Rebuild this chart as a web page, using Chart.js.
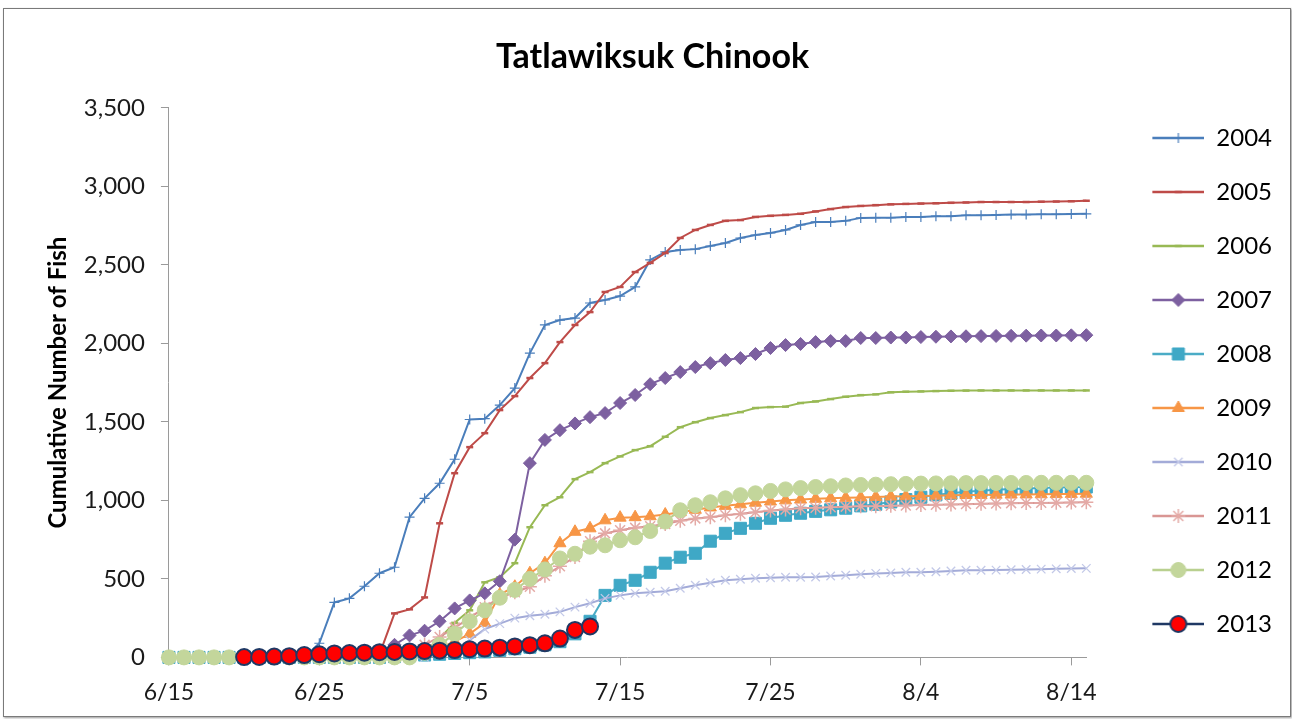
<!DOCTYPE html>
<html>
<head>
<meta charset="utf-8">
<script src="https://cdn.jsdelivr.net/npm/chart.js@4.4.1/dist/chart.umd.min.js"></script>
<style>
  html, body { margin: 0; padding: 0; background: #fff; }
  #wrap { position: relative; width: 1292px; height: 719px; }
  #wrap canvas { position: absolute; left: 0; top: 0; }
  #frame { position: absolute; left: 3px; top: 8px; width: 1286px; height: 707px;
           border: 1px solid #7a7a7a; box-shadow: 1px 1px 2px #9a9a9a; pointer-events: none; }
</style>
</head>
<body>
<div id="wrap">
  <canvas id="fishChart" width="1292" height="719"></canvas>
  <div id="frame"></div>
</div>
<script>
// days on the x axis
const dates = ['6/15','6/16','6/17','6/18','6/19','6/20','6/21','6/22','6/23','6/24',
  '6/25','6/26','6/27','6/28','6/29','6/30','7/1','7/2','7/3','7/4',
  '7/5','7/6','7/7','7/8','7/9','7/10','7/11','7/12','7/13','7/14',
  '7/15','7/16','7/17','7/18','7/19','7/20','7/21','7/22','7/23','7/24',
  '7/25','7/26','7/27','7/28','7/29','7/30','7/31','8/1','8/2','8/3',
  '8/4','8/5','8/6','8/7','8/8','8/9','8/10','8/11','8/12','8/13',
  '8/14','8/15'];

const years = ['2004','2005','2006','2007','2008','2009','2010','2011','2012','2013'];

// cumulative counts, one value per day
const y2004 = [0,0,0,0,0,0,0,0,0,0,
  90,350,376,453,536,574,893,1013,1109,1262,
  1515,1520,1607,1715,1938,2117,2148,2161,2257,2276,
  2301,2359,2531,2582,2595,2600,2620,2639,2671,2690,
  2703,2722,2754,2773,2773,2780,2799,2800,2800,2805,
  2805,2810,2810,2815,2815,2818,2820,2820,2822,2822,
  2824,2825];
const y2005 = [0,0,0,0,0,0,0,0,0,0,
  0,0,0,0,20,280,306,382,854,1173,
  1339,1428,1575,1664,1779,1874,2008,2117,2199,2327,
  2359,2454,2512,2575,2671,2722,2754,2780,2785,2805,
  2812,2818,2825,2840,2855,2868,2875,2880,2885,2888,
  2890,2892,2895,2897,2900,2900,2900,2900,2902,2903,
  2905,2908];
const y2006 = [0,0,0,0,0,0,0,0,0,0,
  0,0,0,0,0,0,0,40,120,220,
  300,478,510,600,829,969,1020,1135,1180,1237,
  1280,1320,1345,1405,1466,1498,1524,1543,1562,1588,
  1594,1597,1620,1630,1645,1660,1670,1675,1688,1692,
  1694,1696,1698,1699,1700,1700,1700,1700,1700,1700,
  1700,1700];
const y2007 = [0,0,0,0,0,0,0,0,0,0,
  0,0,0,0,20,80,140,170,230,312,
  363,408,485,750,1237,1385,1447,1490,1530,1556,
  1620,1671,1740,1779,1817,1849,1874,1894,1906,1932,
  1970,1989,1996,2008,2015,2015,2034,2034,2037,2037,
  2040,2042,2044,2045,2046,2047,2048,2049,2050,2050,
  2051,2052];
const y2008 = [0,0,0,0,0,0,0,0,0,0,
  0,0,0,0,0,5,10,15,20,25,
  30,35,45,55,65,80,100,150,230,395,
  459,491,542,600,638,663,740,790,822,854,
  886,905,918,930,940,950,965,975,990,1005,
  1020,1035,1045,1055,1062,1068,1072,1076,1079,1082,
  1084,1085];
const y2009 = [0,0,0,0,0,0,0,0,0,0,
  0,0,0,0,0,0,10,30,60,100,
  150,220,400,450,536,600,727,800,822,873,
  890,893,899,910,925,940,955,965,975,985,
  993,1000,1005,1010,1013,1016,1019,1022,1024,1026,
  1028,1030,1032,1034,1035,1036,1037,1038,1039,1040,
  1041,1042];
const y2010 = [0,0,0,0,0,0,0,0,0,0,
  0,0,0,0,0,0,0,0,20,50,
  110,180,215,250,265,275,290,320,345,376,
  395,408,415,421,440,459,475,491,498,504,
  507,510,510,512,518,523,530,535,538,542,
  542,545,550,555,555,556,558,560,562,564,
  566,567];
const y2011 = [0,0,0,0,0,0,0,0,0,0,
  0,0,0,0,0,10,40,80,130,190,
  250,320,380,415,450,520,580,640,740,790,
  810,825,835,850,870,885,893,905,915,924,
  935,942,950,953,956,960,963,963,965,967,
  970,972,974,976,978,980,982,983,984,985,
  987,988];
const y2012 = [0,0,0,0,0,0,0,0,0,0,
  0,0,0,0,0,0,0,30,80,150,
  230,300,380,430,500,560,630,660,705,714,
  746,765,805,865,937,969,988,1013,1033,1045,
  1060,1070,1078,1085,1090,1095,1098,1100,1103,1105,
  1107,1108,1109,1110,1110,1111,1111,1111,1112,1112,
  1112,1112];
const y2013 = [null,null,null,null,null,2,3,5,8,15,
  20,25,28,30,33,35,38,40,43,47,
  52,56,62,70,78,90,120,175,197];

const series = [y2004, y2005, y2006, y2007, y2008, y2009, y2010, y2011, y2012, y2013];

// line / marker looks, same order as years
const looks = [
  {line: '#4A7EBB', fill: '#4A7EBB', edge: '#4A7EBB', shape: 'cross',    r: 5,   bw: 1.2},
  {line: '#BE4B48', fill: '#BE4B48', edge: '#BE4B48', shape: 'line',     r: 3.5, bw: 2.5},
  {line: '#98B954', fill: '#98B954', edge: '#98B954', shape: 'line',     r: 3.5, bw: 2.5},
  {line: '#7D60A0', fill: '#7D60A0', edge: '#7D60A0', shape: 'rectRot',  r: 6.5, bw: 1},
  {line: '#4BACC6', fill: '#3FA8C6', edge: '#3FA8C6', shape: 'rect',     r: 8.5, bw: 1},
  {line: '#F79646', fill: '#F79646', edge: '#F79646', shape: 'triangle', r: 7,   bw: 1},
  {line: '#A3ABD8', fill: '#C3C9E8', edge: '#C3C9E8', shape: 'crossRot', r: 6,   bw: 1.3},
  {line: '#D99694', fill: '#E4AAA6', edge: '#E4AAA6', shape: 'star',     r: 7,   bw: 1.5},
  {line: '#B9D08F', fill: '#C3D69B', edge: '#C3D69B', shape: 'circle',   r: 7.5, bw: 1},
  {line: '#1F3864', fill: '#FF0000', edge: '#1F3864', shape: 'circle',   r: 8,   bw: 2}
];

Chart.defaults.font.family = 'Lato, "Liberation Sans", sans-serif';
Chart.defaults.color = '#1a1a1a';

// small picture for a legend entry: a piece of line with the marker on it
function legendPic(look) {
    const c = document.createElement('canvas');
    c.width = 88;
    c.height = 22;
    const g = c.getContext('2d');
    g.strokeStyle = look.line;
    g.lineWidth = 2.5;
    g.beginPath();
    g.moveTo(36, 11);
    g.lineTo(88, 11);
    g.stroke();
    g.fillStyle = look.fill;
    g.strokeStyle = look.edge;
    g.lineWidth = look.bw;
    Chart.helpers.drawPoint(g, {pointStyle: look.shape, radius: look.r, borderWidth: look.bw, rotation: 0}, 62, 11);
    return c;
}

const datasets = years.map((yr, k) => ({
    label: yr,
    data: series[k],
    borderColor: looks[k].line,
    backgroundColor: looks[k].fill,
    borderWidth: 2,
    tension: 0,
    pointStyle: looks[k].shape,
    pointRadius: looks[k].r,
    pointHoverRadius: looks[k].r,
    pointBackgroundColor: looks[k].fill,
    pointBorderColor: looks[k].edge,
    pointBorderWidth: looks[k].bw,
    clip: false,
    order: years.length - k
}));

new Chart(document.getElementById('fishChart'), {
    type: 'line',
    data: {
        labels: dates,
        datasets: datasets
    },
    options: {
        responsive: false,
        animation: false,
        devicePixelRatio: 1,
        layout: {
            padding: {top: 0, right: 10, bottom: 0, left: 23}
        },
        plugins: {
            title: {
                display: true,
                text: 'Tatlawiksuk Chinook',
                color: '#000',
                font: {size: 34, weight: 'bold', lineHeight: 1.2},
                padding: {top: 37, bottom: 30}
            },
            legend: {
                display: true,
                position: 'right',
                title: {
                    display: true,
                    text: ' ',
                    font: {size: 20, lineHeight: 1.2},
                    padding: {top: 0, bottom: 19}
                },
                labels: {
                    usePointStyle: true,
                    pointStyleWidth: 88,
                    padding: 30,
                    color: '#000',
                    font: {size: 24},
                    generateLabels: chart => chart.data.datasets.map((ds, i) => ({
                        text: ds.label,
                        pointStyle: legendPic(looks[i]),
                        fillStyle: 'rgba(0,0,0,0)',
                        strokeStyle: 'rgba(0,0,0,0)',
                        lineWidth: 0,
                        hidden: false,
                        fontColor: '#000',
                        datasetIndex: i
                    }))
                }
            },
            tooltip: {enabled: false}
        },
        scales: {
            x: {
                offset: false,
                grid: {
                    drawOnChartArea: false,
                    drawTicks: true,
                    tickLength: 8,
                    color: ctx => ctx.index % 10 === 0 ? '#9a9a9a' : 'rgba(0,0,0,0)'
                },
                border: {color: '#9a9a9a', width: 1},
                ticks: {
                    autoSkip: false,
                    maxRotation: 0,
                    padding: 13,
                    color: '#1a1a1a',
                    font: {size: 23},
                    callback: function(v, i) {
                        return i % 10 === 0 ? this.getLabelForValue(v) : '';
                    }
                }
            },
            y: {
                min: 0,
                max: 3500,
                grid: {
                    drawOnChartArea: false,
                    drawTicks: true,
                    tickLength: 8,
                    color: '#9a9a9a'
                },
                border: {color: '#9a9a9a', width: 1},
                ticks: {
                    stepSize: 500,
                    padding: 16,
                    color: '#1a1a1a',
                    font: {size: 24},
                    callback: v => v.toLocaleString('en-US')
                },
                title: {
                    display: true,
                    text: 'Cumulative Number of Fish',
                    color: '#000',
                    font: {size: 24, weight: 'bold', lineHeight: 1.2},
                    padding: {top: 21, bottom: -5}
                }
            }
        }
    }
});
</script>
</body>
</html>
